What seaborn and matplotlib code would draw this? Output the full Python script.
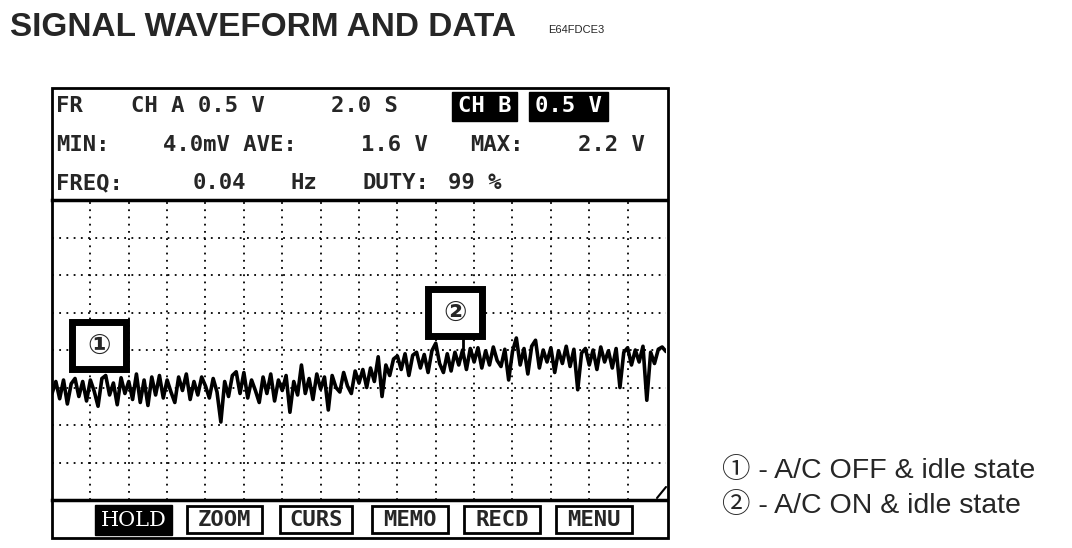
import numpy as np
import matplotlib
matplotlib.use("Agg")
import matplotlib.pyplot as plt
from matplotlib.patches import Rectangle
import seaborn as sns

# ------------------------------------------------------------------
# Datos leidos de la captura del osciloscopio (CH A, 0.5 V/div, 2 s/div)
# ------------------------------------------------------------------
periodo_muestreo = 0.2   # s entre muestras
voltaje = [
    1.42, 1.58, 1.35, 1.60, 1.28, 1.55, 1.62, 1.38, 1.58, 1.32,
    1.60, 1.45, 1.25, 1.62, 1.66, 1.40, 1.56, 1.27, 1.63, 1.42,
    1.58, 1.34, 1.68, 1.30, 1.60, 1.26, 1.64, 1.40, 1.66, 1.36,
    1.60, 1.44, 1.30, 1.64, 1.46, 1.68, 1.34, 1.58, 1.40, 1.64,
    1.52, 1.36, 1.62, 1.44, 1.04, 1.58, 1.38, 1.66, 1.71, 1.42,
    1.70, 1.36, 1.60, 1.46, 1.30, 1.64, 1.42, 1.68, 1.32, 1.60,
    1.46, 1.66, 1.17, 1.58, 1.40, 1.80, 1.42, 1.62, 1.34, 1.68,
    1.48, 1.64, 1.20, 1.66, 1.50, 1.44, 1.70, 1.52, 1.42, 1.72,
    1.56, 1.74, 1.50, 1.76, 1.58, 1.91, 1.38, 1.80, 1.66, 1.88,
    1.92, 1.74, 1.95, 1.66, 1.93, 1.97, 1.76, 1.94, 1.70, 1.99,
    2.09, 1.82, 1.70, 1.95, 1.72, 1.97, 1.80, 2.00, 1.74, 2.02,
    1.84, 2.03, 1.76, 1.99, 1.80, 2.04, 1.86, 1.78, 2.01, 1.60,
    1.98, 2.16, 1.80, 2.02, 1.68, 2.05, 2.13, 1.76, 2.00, 1.84,
    2.03, 1.70, 1.99, 1.82, 2.05, 1.78, 2.01, 1.47, 1.96, 2.02,
    1.80, 2.00, 1.74, 2.04, 1.84, 1.99, 1.76, 2.02, 1.50, 1.97,
    2.03, 1.80, 2.00, 1.84, 2.05, 1.33, 1.97, 1.82, 2.01, 2.04,
    1.98,
]
tiempo = np.arange(len(voltaje)) * periodo_muestreo

volt_div = 0.5
seg_div = 2.0
n_div_x = 16
n_div_y = 8

titulo = "SIGNAL WAVEFORM AND DATA"
codigo = "E64FDCE3"
fila1 = [("FR", 56), ("CH A 0.5 V", 131), ("2.0 S", 331)]
fila1_inv = [("CH B", 452, 517), ("0.5 V", 529, 608)]
fila2 = [("MIN:", 56), ("4.0mV AVE:", 163), ("1.6 V", 361), ("MAX:", 470), ("2.2 V", 578)]
fila3 = [("FREQ:", 56), ("0.04", 193), ("Hz", 290), ("DUTY:", 362), ("99 %", 448)]
botones = [("HOLD", 95, 172), ("ZOOM", 187, 262), ("CURS", 280, 352),
           ("MEMO", 372, 448), ("RECD", 464, 540), ("MENU", 556, 632)]
leyenda = ["\u2460 - A/C OFF & idle state", "\u2461 - A/C ON & idle state"]

# ------------------------------------------------------------------
# Figura
# ------------------------------------------------------------------
sns.set_style("white")
plt.rcParams['font.family'] = ['DejaVu Sans', 'Noto Sans CJK JP']

W, H = 1072, 548
fig = plt.figure(figsize=(W / 100, H / 100), dpi=100)

# capa de fondo en pixeles para marco, textos y botones
bg = fig.add_axes([0, 0, 1, 1])
bg.set_xlim(0, W)
bg.set_ylim(H, 0)
bg.axis('off')

mono = dict(family=['DejaVu Sans Mono', 'DejaVu Sans'], fontweight='bold', fontsize=16)
sans = ['Liberation Sans', 'Noto Sans CJK JP']

bg.text(10, 28, titulo, fontsize=24, fontweight='bold', family=sans, va='center', ha='left')
bg.text(548, 30, codigo, fontsize=8, family=sans, va='center', ha='left')

# marco exterior de la pantalla
bg.add_patch(Rectangle((52, 88), 616, 450, fill=False, lw=2, edgecolor='black'))

for txt, x in fila1:
    bg.text(x, 106, txt, va='center', ha='left', **mono)
for txt, x0, x1 in fila1_inv:
    bg.add_patch(Rectangle((x0, 92), x1 - x0, 29, color='black'))
    bg.text((x0 + x1) / 2, 106, txt, va='center', ha='center', color='white', **mono)
for txt, x in fila2:
    bg.text(x, 145, txt, va='center', ha='left', **mono)
for txt, x in fila3:
    bg.text(x, 183, txt, va='center', ha='left', **mono)

for txt, x0, x1 in botones:
    if txt == "HOLD":
        bg.add_patch(Rectangle((x0, 505), x1 - x0, 30, color='black'))
        bg.text((x0 + x1) / 2, 520, txt, va='center', ha='center', color='white',
                family=['DejaVu Serif'], fontsize=15)
    else:
        bg.add_patch(Rectangle((x0, 506), x1 - x0, 27, fill=False, lw=2, edgecolor='black'))
        bg.text((x0 + x1) / 2, 520, txt, va='center', ha='center', **mono)
bg.plot([657, 666], [498, 487], color='black', lw=1.5)

for i, txt in enumerate(leyenda):
    bg.text(722, 471 + 35 * i, txt, fontsize=20.5, family=sans, va='center', ha='left')

# ------------------------------------------------------------------
# Area de la forma de onda
# ------------------------------------------------------------------
ax = fig.add_axes([52 / W, (H - 500) / H, 614 / W, 300 / H])
ax.set_facecolor('none')
sns.lineplot(x=tiempo, y=voltaje, color='black', lw=2.6, sort=False, ax=ax)
ax.set_xlim(0, n_div_x * seg_div)
ax.set_ylim(0, n_div_y * volt_div)
ax.set_xticks(np.arange(1, n_div_x) * seg_div)
ax.set_yticks(np.arange(1, n_div_y) * volt_div)
ax.tick_params(length=0, labelbottom=False, labelleft=False)
ax.grid(True, color='black', linestyle=(0, (1, 3)), lw=1.3)
for lado in ['left', 'right']:
    ax.spines[lado].set_visible(False)
for lado in ['top', 'bottom']:
    ax.spines[lado].set_linewidth(2.5)
    ax.spines[lado].set_color('black')

# cuadros de referencia (1) y (2)
px_t = n_div_x * seg_div / 614
px_v = n_div_y * volt_div / 300
for num, x0, y0, pointer in [("\u2460", 72, 322, None), ("\u2461", 428, 289, 463)]:
    t0 = (x0 - 52) * px_t
    v_top = (500 - y0) * px_v
    ancho, alto = 54 * px_t, 47 * px_v
    ax.add_patch(Rectangle((t0, v_top - alto), ancho, alto, facecolor='white',
                           edgecolor='black', lw=5, zorder=5, clip_on=False))
    ax.text(t0 + ancho / 2, v_top - alto / 2, num, fontsize=20, fontweight='bold',
            ha='center', va='center', zorder=6, family=['DejaVu Sans', 'Noto Sans CJK JP'])
    if pointer is not None:
        tp = (pointer - 52) * px_t
        ax.plot([tp, tp], [v_top - alto, v_top - alto - 14 * px_v], color='black', lw=2, zorder=5)

fig.savefig("out.png", dpi=100)
